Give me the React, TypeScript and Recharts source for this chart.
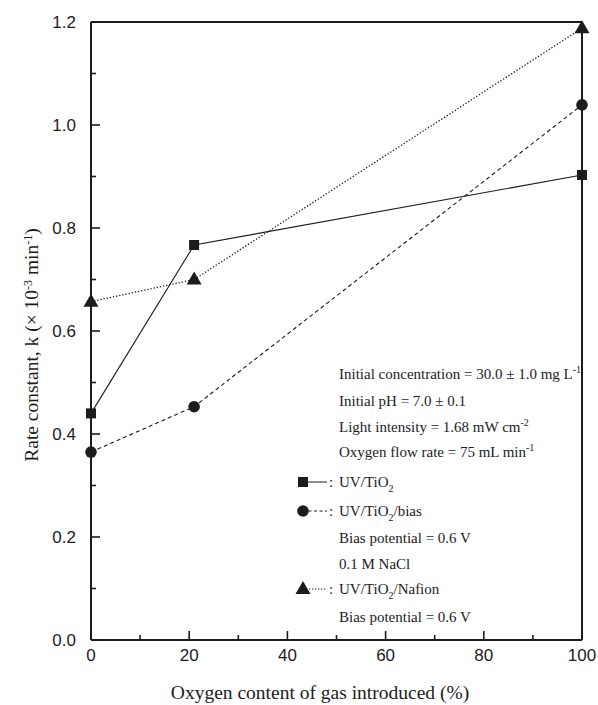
import React from 'react';
import { LineChart, Line, XAxis, YAxis, ReferenceLine } from 'recharts';

// oxygen content of introduced gas (%)
const oxygen = [0, 21, 100];
// rate constants, k (x 10^-3 min^-1)
const uvTiO2 = [0.44, 0.767, 0.903];
const uvTiO2Bias = [0.365, 0.453, 1.039];
const uvTiO2Nafion = [0.657, 0.7, 1.188];

const xTicks = [0, 10, 20, 30, 40, 50, 60, 70, 80, 90, 100];
const yTicks = [0, 0.1, 0.2, 0.3, 0.4, 0.5, 0.6, 0.7, 0.8, 0.9, 1.0, 1.1, 1.2];

const data = oxygen.map((o, i) => ({
  o,
  a: uvTiO2[i],
  b: uvTiO2Bias[i],
  c: uvTiO2Nafion[i],
}));

const INK = '#1c1c1c';
const SANS = '"Liberation Sans", Arial, sans-serif';
const SERIF = '"Liberation Serif", "Times New Roman", serif';
const Y_GAP = 15;
const X_GAP = 9;

const majorX = (v: number) => Math.round(v) % 20 === 0;
const majorY = (v: number) => Math.round(v * 10) % 2 === 0;

const LeftTick = (props: any) => {
  const { x, y, payload } = props;
  const ax = x + Y_GAP;
  const major = majorY(payload.value);
  return (
    <g>
      <line x1={ax} x2={ax + (major ? 9 : 5)} y1={y} y2={y} stroke={INK} strokeWidth={1.6} />
      {major && (
        <text x={x} y={y} dy="0.36em" textAnchor="end" fontFamily={SANS} fontSize={17} fill={INK}>
          {payload.value.toFixed(1)}
        </text>
      )}
    </g>
  );
};

const RightTick = (props: any) => {
  const { x, y, payload } = props;
  const major = majorY(payload.value);
  return <line x1={x} x2={x - (major ? 4 : 2)} y1={y} y2={y} stroke={INK} strokeWidth={1} />;
};

const BottomTick = (props: any) => {
  const { x, y, payload } = props;
  const ay = y - X_GAP;
  const major = majorX(payload.value);
  return (
    <g>
      <line x1={x} x2={x} y1={ay} y2={ay - (major ? 9 : 5)} stroke={INK} strokeWidth={1.6} />
      {major && (
        <text x={x} y={y} dy="0.72em" textAnchor="middle" fontFamily={SANS} fontSize={17} fill={INK}>
          {payload.value}
        </text>
      )}
    </g>
  );
};

const TopTick = (props: any) => {
  const { x, y, payload } = props;
  const major = majorX(payload.value);
  return <line x1={x} x2={x} y1={y} y2={y + (major ? 4 : 2)} stroke={INK} strokeWidth={1} />;
};

const Square = (p: any) => (
  <rect key={`s${p.index}`} x={p.cx - 5} y={p.cy - 5} width={10} height={10} fill={INK} />
);
const Circle = (p: any) => <circle key={`c${p.index}`} cx={p.cx} cy={p.cy} r={5.8} fill={INK} />;
const Triangle = (p: any) => (
  <path
    key={`t${p.index}`}
    d={`M${p.cx},${p.cy - 8} L${p.cx + 7.5},${p.cy + 5} L${p.cx - 7.5},${p.cy + 5} Z`}
    fill={INK}
  />
);

// text with sub/superscripts: parts are [text, shift] where shift is 0, 'sub' or 'sup'
type Part = [string, 0 | 'sub' | 'sup'];
const Rich = ({ parts, small }: { parts: Part[]; small: number }) => {
  let cur = 0;
  return (
    <>
      {parts.map(([t, s], i) => {
        const target = s === 'sub' ? 5 : s === 'sup' ? -6 : 0;
        const dy = target - cur;
        cur = target;
        return (
          <tspan key={i} dy={dy} fontSize={s ? small : undefined}>
            {t}
          </tspan>
        );
      })}
    </>
  );
};

const TX = 339;
const SX = 303;

const Notes = () => (
  <svg width={598} height={705} style={{ position: 'absolute', left: 0, top: 0, pointerEvents: 'none' }}>
    <g fontFamily={SERIF} fontSize={15} fill={INK}>
      <text x={TX} y={379}>
        <Rich small={10} parts={[['Initial concentration = 30.0 ± 1.0 mg L', 0], ['-1', 'sup']]} />
      </text>
      <text x={TX} y={406}>Initial pH = 7.0 ± 0.1</text>
      <text x={TX} y={432}>
        <Rich small={10} parts={[['Light intensity = 1.68 mW cm', 0], ['-2', 'sup']]} />
      </text>
      <text x={TX} y={457}>
        <Rich small={10} parts={[['Oxygen flow rate = 75 mL min', 0], ['-1', 'sup']]} />
      </text>
      <text x={TX} y={487}>
        <Rich small={10} parts={[['UV/TiO', 0], ['2', 'sub']]} />
      </text>
      <text x={TX} y={516}>
        <Rich small={10} parts={[['UV/TiO', 0], ['2', 'sub'], ['/bias', 0]]} />
      </text>
      <text x={TX} y={543}>Bias potential = 0.6 V</text>
      <text x={TX} y={569}>0.1 M NaCl</text>
      <text x={TX} y={594}>
        <Rich small={10} parts={[['UV/TiO', 0], ['2', 'sub'], ['/Nafion', 0]]} />
      </text>
      <text x={TX} y={622}>Bias potential = 0.6 V</text>
      <text x={329} y={487}>:</text>
      <text x={329} y={516}>:</text>
      <text x={329} y={594}>:</text>
    </g>
    <line x1={SX} x2={327} y1={482} y2={482} stroke={INK} strokeWidth={1} />
    <rect x={SX - 5} y={477} width={10} height={10} fill={INK} />
    <line x1={SX} x2={327} y1={511} y2={511} stroke={INK} strokeWidth={1} strokeDasharray="3 2.5" />
    <circle cx={SX} cy={511} r={5.8} fill={INK} />
    <line x1={SX} x2={327} y1={589} y2={589} stroke={INK} strokeWidth={1.2} strokeDasharray="1.3 1.7" />
    <path d={`M${SX},${581} L${SX + 7.5},${594} L${SX - 7.5},${594} Z`} fill={INK} />

    <text x={320} y={699} textAnchor="middle" fontFamily={SERIF} fontSize={19.5} fill={INK}>
      Oxygen content of gas introduced (%)
    </text>
    <text
      transform="translate(38, 345) rotate(-90)"
      textAnchor="middle"
      fontFamily={SERIF}
      fontSize={19.5}
      fill={INK}
    >
      <Rich
        small={12}
        parts={[
          ['Rate constant, k (× 10', 0],
          ['-3', 'sup'],
          [' min', 0],
          ['-1', 'sup'],
          [')', 0],
        ]}
      />
    </text>
  </svg>
);

export default function App() {
  return (
    <div style={{ position: 'absolute', left: 0, top: 0, width: 598, height: 705, background: '#fff' }}>
      <LineChart
        width={598}
        height={705}
        data={data}
        margin={{ top: 22, right: 16, bottom: 0, left: 0 }}
      >
        <XAxis
          xAxisId="b"
          dataKey="o"
          type="number"
          domain={[0, 100]}
          ticks={xTicks}
          interval={0}
          height={65}
          tickSize={0}
          tickMargin={X_GAP}
          tickLine={false}
          tick={<BottomTick />}
          axisLine={{ stroke: INK, strokeWidth: 2 }}
        />
        <XAxis
          xAxisId="t"
          dataKey="o"
          type="number"
          orientation="top"
          domain={[0, 100]}
          ticks={xTicks}
          interval={0}
          height={0}
          tickSize={0}
          tickMargin={0}
          tickLine={false}
          tick={<TopTick />}
          axisLine={false}
        />
        <YAxis
          yAxisId="l"
          type="number"
          domain={[0, 1.2]}
          ticks={yTicks}
          interval={0}
          width={91}
          tickSize={0}
          tickMargin={Y_GAP}
          tickLine={false}
          tick={<LeftTick />}
          axisLine={{ stroke: INK, strokeWidth: 2 }}
        />
        <YAxis
          yAxisId="r"
          orientation="right"
          type="number"
          domain={[0, 1.2]}
          ticks={yTicks}
          interval={0}
          width={0}
          tickSize={0}
          tickMargin={0}
          tickLine={false}
          tick={<RightTick />}
          axisLine={false}
        />
        <ReferenceLine xAxisId="b" yAxisId="l" y={1.2} stroke={INK} strokeWidth={2} />
        <ReferenceLine xAxisId="b" yAxisId="l" x={100} stroke={INK} strokeWidth={2} />
        <Line
          xAxisId="b"
          yAxisId="l"
          dataKey="a"
          type="linear"
          stroke={INK}
          strokeWidth={1.1}
          dot={Square}
          activeDot={false}
          isAnimationActive={false}
        />
        <Line
          xAxisId="b"
          yAxisId="l"
          dataKey="b"
          type="linear"
          stroke={INK}
          strokeWidth={1.1}
          strokeDasharray="4 3"
          dot={Circle}
          activeDot={false}
          isAnimationActive={false}
        />
        <Line
          xAxisId="b"
          yAxisId="l"
          dataKey="c"
          type="linear"
          stroke={INK}
          strokeWidth={1.3}
          strokeDasharray="1.3 1.9"
          dot={Triangle}
          activeDot={false}
          isAnimationActive={false}
        />
      </LineChart>
      <Notes />
    </div>
  );
}
